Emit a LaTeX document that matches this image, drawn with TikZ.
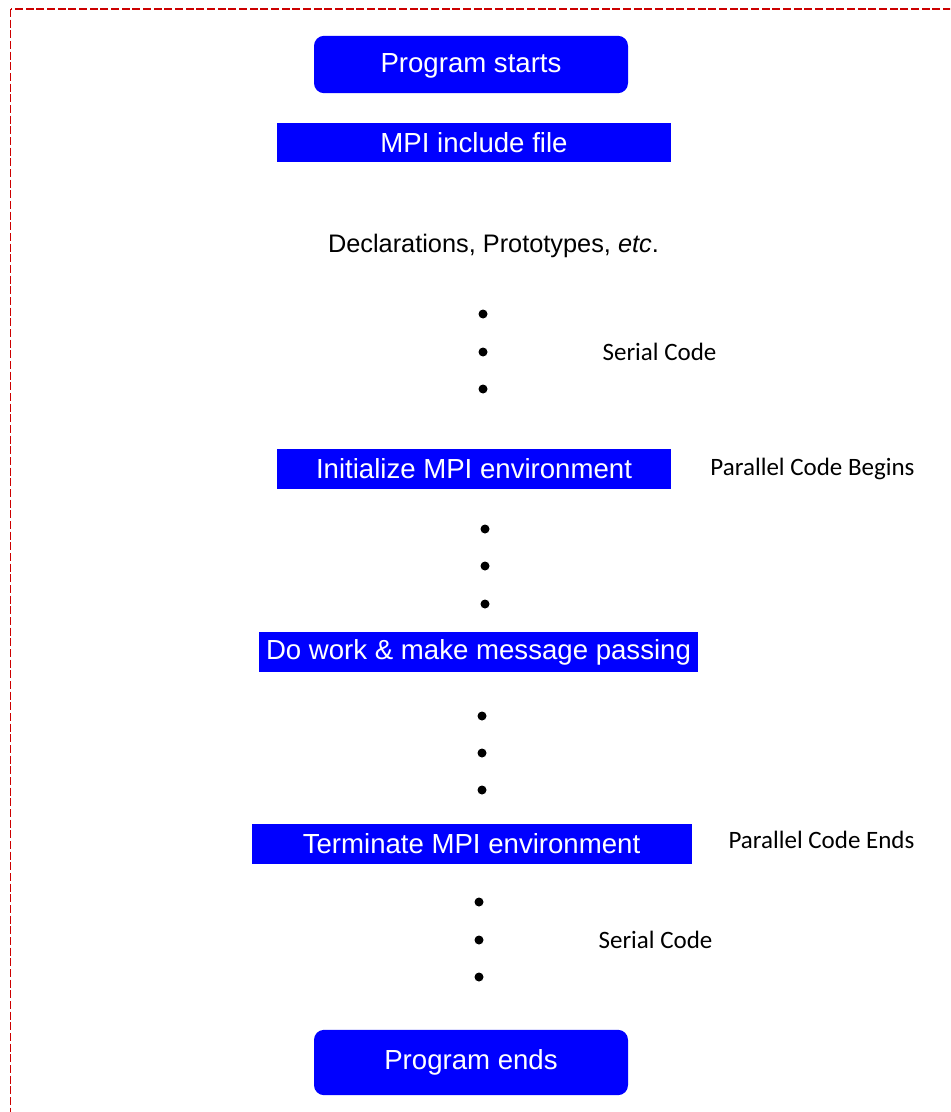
\documentclass[tikz,border=0pt]{standalone}
\usepackage{fontspec}
\setmainfont{Liberation Sans}
\newfontfamily\calfont{Carlito}
\usepackage{tikz}
\usetikzlibrary{calc}
\definecolor{qqqqff}{rgb}{0.,0.,1.}
\definecolor{ccqqqq}{rgb}{0.8,0.,0.}
\tikzset{
  stepbox/.style={fill=qqqqff,text=white,inner sep=0pt,font=\fontsize{20.7}{25}\selectfont},
  endbox/.style={stepbox,rounded corners=7.5pt,minimum width=235.5pt},
  sidenote/.style={font=\calfont\fontsize{18.75}{22}\selectfont},
  vdot/.style={fill=black}
}
\begin{document}
\begin{tikzpicture}[line cap=round,line join=round,x=0.75pt,y=-0.75pt]
            \useasboundingbox (0,0) rectangle (950,1112);
            \clip (0,0) rectangle (950,1112);
            \fill[white] (0,0) rectangle (950,1112);
            \draw [line width=1.1pt,color=ccqqqq,dash pattern=on 6pt off 2pt,line cap=butt] (10.5,9) rectangle (965,1130);
            \node[endbox,minimum height=43pt,text depth=2pt] (start) at (471,64.5) {Program starts};
            \node[stepbox,minimum width=295.5pt,minimum height=29.5pt] (incl) at (474,142.5) {MPI include file};
            \node[font=\fontsize{19}{23}\selectfont] (decl) at (493.5,246) {Declarations, Prototypes, \textit{etc}.};
            \node[stepbox,minimum width=295.5pt,minimum height=30pt] (init) at (474,469) {Initialize MPI environment};
            \node[stepbox,minimum width=329pt,minimum height=30pt] (work) at (478.5,652) {Do work \& make message passing};
            \node[stepbox,minimum width=330pt,minimum height=30pt] (term) at (471.5,843.5) {Terminate MPI environment};
            \node[endbox,minimum height=49pt] (stop) at (471,1062.5) {Program ends};
            \node[sidenote] (serA) at (659.5,352) {Serial Code};
            \node[sidenote] (parB) at (812.5,469) {Parallel Code Begins};
            \node[sidenote] (parE) at (821.5,840) {Parallel Code Ends};
            \node[sidenote] (serB) at (655.5,940) {Serial Code};
            \foreach \x/\y in {483/314,483/352,483/389,485/529,485/566,485/604,482/716,482/753,482/790,479/902,479/940,479/977}
                \fill[vdot] (\x,\y) circle (4.5);
        \end{tikzpicture}
\end{document}
